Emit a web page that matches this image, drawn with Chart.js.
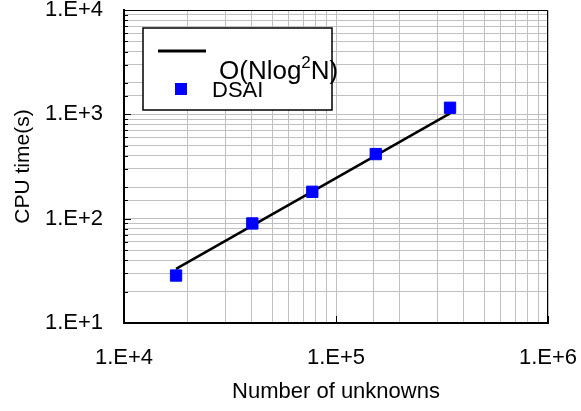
<!DOCTYPE html>
<html>
<head>
<meta charset="utf-8">
<script src="https://cdn.jsdelivr.net/npm/chart.js@4.4.0/dist/chart.umd.min.js"></script>
<style>
  html, body { margin: 0; padding: 0; background: #fff; }
</style>
</head>
<body>
<canvas id="cpuChart" width="581" height="411"></canvas>
<script>
// Measured CPU time (DSAI) against problem size, plus the O(N log^2 N) reference line
const unknowns = [17600, 40300, 77300, 154000, 345000];
const dsaiTime = [28.5, 90, 181, 416, 1156];
const fitUnknowns = [17600, 345000];
const fitTime = [33, 1020];
const seriesLabels = ["DSAI", "O(Nlog²N)"];
const xRange = [1e4, 1e6];
const yRange = [1e1, 1e4];

const FONT = '"Liberation Sans", Arial, sans-serif';
const GRID = "#c0c0c0";

// only decades get a label, written like 1.E+4
function sciLabel(value) {
  const e = Math.log10(value);
  return Math.abs(e - Math.round(e)) < 1e-9 ? "1.E+" + Math.round(e) : "";
}
function isDecade(v) {
  const e = Math.log10(v);
  return Math.abs(e - Math.round(e)) < 1e-9;
}

// thin frame on top/right and small inward tick marks on the axes
const frameTicks = {
  id: "frameTicks",
  afterDatasetsDraw(chart) {
    const { ctx, chartArea: a, scales } = chart;
    ctx.save();
    ctx.strokeStyle = "#000";
    ctx.lineWidth = 1;
    ctx.beginPath();
    ctx.moveTo(a.left, a.top + 0.5);
    ctx.lineTo(a.right - 0.5, a.top + 0.5);
    ctx.lineTo(a.right - 0.5, a.bottom);
    ctx.stroke();

    ctx.beginPath();
    scales.y.ticks.forEach(t => {
      const py = Math.round(scales.y.getPixelForValue(t.value)) + 0.5;
      ctx.moveTo(a.left, py);
      ctx.lineTo(a.left + (isDecade(t.value) ? 7 : 4), py);
    });
    scales.x.ticks.forEach(t => {
      if (!isDecade(t.value)) return;
      const px = Math.round(scales.x.getPixelForValue(t.value)) + 0.5;
      ctx.moveTo(px, a.bottom);
      ctx.lineTo(px, a.bottom - 7);
    });
    ctx.stroke();
    ctx.restore();
  }
};

// writes text where a "²" is drawn as a raised, smaller 2
function drawWithSuperscript(ctx, text, x, y, size) {
  const parts = text.split("²");
  const supSize = Math.round(size * 0.65);
  let cx = x;
  parts.forEach((p, i) => {
    ctx.font = size + "px " + FONT;
    ctx.fillText(p, cx, y);
    cx += ctx.measureText(p).width;
    if (i < parts.length - 1) {
      ctx.font = supSize + "px " + FONT;
      ctx.fillText("2", cx, y - size * 0.33);
      cx += ctx.measureText("2").width;
    }
  });
}

// boxed legend in the upper left of the plot
const boxLegend = {
  id: "boxLegend",
  afterDatasetsDraw(chart) {
    const { ctx, chartArea: a } = chart;
    const dsai = chart.data.datasets[0];
    const fit = chart.data.datasets[1];
    const x0 = a.left + 19, y0 = a.top + 18, w = 189, h = 82;
    ctx.save();
    ctx.fillStyle = "#fff";
    ctx.fillRect(x0, y0, w, h);
    ctx.strokeStyle = "#000";
    ctx.lineWidth = 1.5;
    ctx.strokeRect(x0, y0, w, h);

    ctx.beginPath();
    ctx.moveTo(x0 + 15, y0 + 23);
    ctx.lineTo(x0 + 63, y0 + 23);
    ctx.lineWidth = 3;
    ctx.strokeStyle = fit.borderColor;
    ctx.stroke();

    ctx.fillStyle = dsai.backgroundColor;
    ctx.fillRect(x0 + 32, y0 + 55, 12, 12);

    ctx.fillStyle = "#000";
    ctx.textBaseline = "middle";
    drawWithSuperscript(ctx, fit.label, x0 + 76, y0 + 44, 26);
    drawWithSuperscript(ctx, dsai.label, x0 + 69, y0 + 63, 22);
    ctx.restore();
  }
};

new Chart("cpuChart", {
  type: "scatter",
  data: {
    datasets: [
      {
        label: seriesLabels[0],
        data: unknowns.map((n, i) => ({ x: n, y: dsaiTime[i] })),
        showLine: false,
        pointStyle: "rect",
        pointRadius: 8,
        pointHoverRadius: 8,
        backgroundColor: "#0000ff",
        borderColor: "#0000ff",
        borderWidth: 1
      },
      {
        label: seriesLabels[1],
        data: fitUnknowns.map((n, i) => ({ x: n, y: fitTime[i] })),
        showLine: true,
        pointRadius: 0,
        borderColor: "#000",
        borderWidth: 2.5
      }
    ]
  },
  options: {
    responsive: false,
    animation: false,
    devicePixelRatio: 1,
    layout: { padding: { top: 10, right: 33, bottom: 0, left: 0 } },
    plugins: { legend: { display: false }, tooltip: { enabled: false } },
    scales: {
      x: {
        type: "logarithmic",
        position: "bottom",
        min: xRange[0],
        max: xRange[1],
        grid: { color: GRID, lineWidth: 1, drawTicks: false },
        border: { color: "#000", width: 2 },
        ticks: {
          autoSkip: false,
          maxRotation: 0,
          padding: 22,
          color: "#000",
          font: { family: FONT, size: 22 },
          callback: sciLabel
        },
        title: {
          display: true,
          text: "Number of unknowns",
          color: "#000",
          font: { family: FONT, size: 22 },
          padding: { top: 0, bottom: 6 }
        },
        afterFit(s) {
          s.height = 88;
          s.paddingLeft = 0;
          s.paddingRight = 0;
        }
      },
      y: {
        type: "logarithmic",
        position: "left",
        min: yRange[0],
        max: yRange[1],
        grid: { color: GRID, lineWidth: 1, drawTicks: false },
        border: { color: "#000", width: 2 },
        ticks: {
          autoSkip: false,
          padding: 21,
          color: "#000",
          font: { family: FONT, size: 22 },
          callback: sciLabel
        },
        title: {
          display: true,
          text: "CPU time(s)",
          color: "#000",
          font: { family: FONT, size: 21 },
          padding: { top: 11, bottom: 0 }
        },
        afterFit(s) {
          s.width = 124;
          s.paddingTop = 0;
          s.paddingBottom = 0;
        }
      }
    }
  },
  plugins: [frameTicks, boxLegend]
});
</script>
</body>
</html>
